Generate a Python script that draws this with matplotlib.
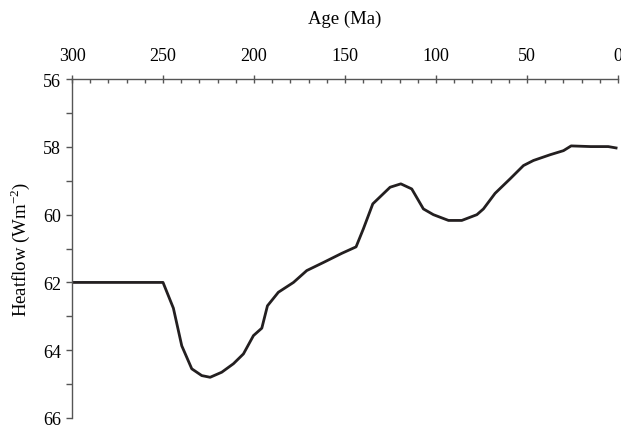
import numpy as np
import matplotlib.pyplot as plt
from matplotlib.ticker import MultipleLocator

plt.rcParams['font.family'] = ['Liberation Serif', 'DejaVu Serif']

# значения
age = [300, 250, 244.3, 239.7, 234.2, 228.7, 224.1, 217.7, 211.3, 205.8, 200.3,
       195.7, 192.6, 186.6, 178.3, 171, 161.8, 151.7, 143.9, 139.9, 134.7,
       125.2, 119.3, 113.3, 106.9, 101.4, 93.1, 85.8, 77.5, 73.9, 67.5, 59.2,
       51.9, 46.4, 37.2, 29.9, 25.7, 15, 5.3, 1]
heatflow = [62.0, 62.0, 62.76, 63.87, 64.55, 64.75, 64.8, 64.65, 64.4, 64.11, 63.57,
            63.35, 62.69, 62.29, 62.0, 61.65, 61.41, 61.14, 60.95, 60.42, 59.68,
            59.19, 59.09, 59.24, 59.83, 60.0, 60.17, 60.17, 60.0, 59.83, 59.37, 58.94,
            58.55, 58.4, 58.23, 58.11, 57.97, 57.99, 57.99, 58.03]

fig = plt.figure(figsize=(6.21, 4.31), dpi=100)
ax = fig.add_axes([0.116, 0.028, 0.879, 0.786])

ax.plot(age, heatflow, color='#231f20', lw=2.0, solid_joinstyle='round')

ax.set_xlim(300, 0)
ax.set_ylim(66, 56)

ax.spines['right'].set_visible(False)
ax.spines['bottom'].set_visible(False)
for s in ['top', 'left']:
    ax.spines[s].set_color('#555555')
    ax.spines[s].set_linewidth(1.0)

ax.xaxis.tick_top()
ax.xaxis.set_label_position('top')
ax.xaxis.set_major_locator(MultipleLocator(50))
ax.xaxis.set_minor_locator(MultipleLocator(10))
ax.yaxis.set_major_locator(MultipleLocator(2))
ax.yaxis.set_minor_locator(MultipleLocator(1))

ax.tick_params(axis='x', which='major', direction='inout', length=6, width=1,
               color='#555555', labelsize=13, pad=8)
ax.tick_params(axis='x', which='minor', direction='in', length=3, width=1, color='#555555')
ax.tick_params(axis='y', which='both', direction='out', length=4, width=1,
               color='#555555', labelsize=13, pad=4)

ax.set_xlabel('Age (Ma)', fontsize=13.5, labelpad=17)
ax.set_ylabel('Heatflow (Wm$^{\\mathregular{-2}}$)', fontsize=13.5, labelpad=8)

fig.savefig('out.png', dpi=100)
